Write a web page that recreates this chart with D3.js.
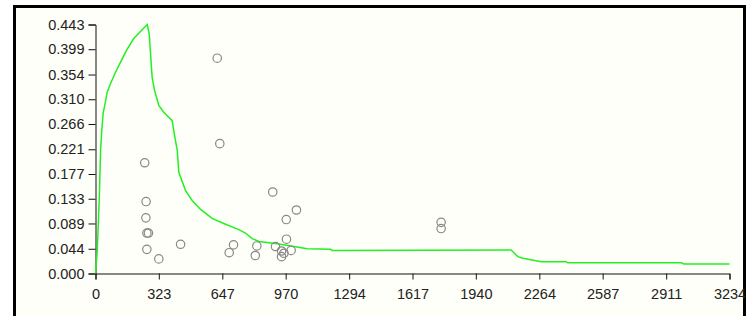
<!DOCTYPE html>
<html>
<head>
<meta charset="utf-8">
<script src="https://cdn.jsdelivr.net/npm/d3@7"></script>
<style>
  body { margin: 0; background: #fff; }
  svg { display: block; }
  .tick text { font-family: "Liberation Sans", Arial, sans-serif; font-size: 14.5px; fill: #222; }
</style>
</head>
<body>
<script>
// tick labels as printed on the chart
const xTicks = [0, 323, 647, 970, 1294, 1617, 1940, 2264, 2587, 2911, 3234];
const yTicks = [0.000, 0.044, 0.089, 0.133, 0.177, 0.221, 0.266, 0.310, 0.354, 0.399, 0.443];

// green curve (x, y)
const curveX = [0, 9, 14, 20, 26, 31, 39, 47, 60, 77, 102, 128, 158, 195, 264, 274, 289, 301, 323, 348, 391, 405, 417, 425, 459, 493, 536, 595, 654, 731, 765, 799, 833, 927, 1012, 1080, 1199, 1207, 2120, 2154, 2180, 2214, 2274, 2401, 2409, 2988, 3001, 3234];
const curveY = [0, 0.041, 0.085, 0.142, 0.219, 0.249, 0.285, 0.299, 0.323, 0.338, 0.358, 0.376, 0.397, 0.418, 0.443, 0.426, 0.349, 0.326, 0.299, 0.287, 0.272, 0.242, 0.219, 0.180, 0.148, 0.130, 0.114, 0.098, 0.089, 0.078, 0.072, 0.062, 0.057, 0.053, 0.048, 0.044, 0.043, 0.041, 0.042, 0.030, 0.027, 0.025, 0.021, 0.021, 0.019, 0.019, 0.017, 0.017];

// scatter points (x, y)
const pointX = [251, 258, 257, 262, 270, 262, 323, 434, 682, 704, 823, 815, 904, 918, 973, 1025, 974, 949, 949, 961, 998, 621, 634, 1763, 1763];
const pointY = [0.197, 0.128, 0.099, 0.072, 0.072, 0.043, 0.026, 0.052, 0.037, 0.051, 0.049, 0.032, 0.145, 0.048, 0.096, 0.113, 0.061, 0.040, 0.030, 0.036, 0.041, 0.383, 0.231, 0.091, 0.080];

const W = 748, H = 316;
const svg = d3.select("body").append("svg")
  .attr("width", W)
  .attr("height", H);

// framed panel
svg.append("rect")
  .attr("x", 14.5).attr("y", 6.5)
  .attr("width", 730).attr("height", 330)
  .attr("fill", "#fffff9")
  .attr("stroke", "#000")
  .attr("stroke-width", 3);

const x = d3.scaleLinear().domain([0, 3234]).range([95.5, 729.5]);
const y = d3.scaleLinear().domain([0, 0.443]).range([273.5, 24.5]);

const g = svg.append("g");

g.append("g")
  .attr("transform", "translate(0,273.5)")
  .call(d3.axisBottom(x).tickValues(xTicks).tickSize(6).tickFormat(d3.format("d")))
  .call(a => a.selectAll("text").attr("dy", "1.15em"));

g.append("g")
  .attr("transform", "translate(95.5,0)")
  .call(d3.axisLeft(y).tickValues(yTicks).tickSize(7).tickFormat(d3.format(".3f")))
  .call(a => a.selectAll("text").attr("x", -11));

g.selectAll(".domain, .tick line").attr("stroke", "#111");

const line = d3.line()
  .x((d, i) => x(curveX[i]))
  .y((d, i) => y(curveY[i]));

g.append("path")
  .datum(curveX)
  .attr("d", line)
  .attr("fill", "none")
  .attr("stroke", "#22f022")
  .attr("stroke-width", 1.5);

g.selectAll("circle.pt")
  .data(pointX)
  .enter().append("circle")
  .attr("class", "pt")
  .attr("cx", (d, i) => x(d))
  .attr("cy", (d, i) => y(pointY[i]))
  .attr("r", 4.2)
  .attr("fill", "none")
  .attr("stroke", "#888")
  .attr("stroke-width", 1.2);
</script>
</body>
</html>
